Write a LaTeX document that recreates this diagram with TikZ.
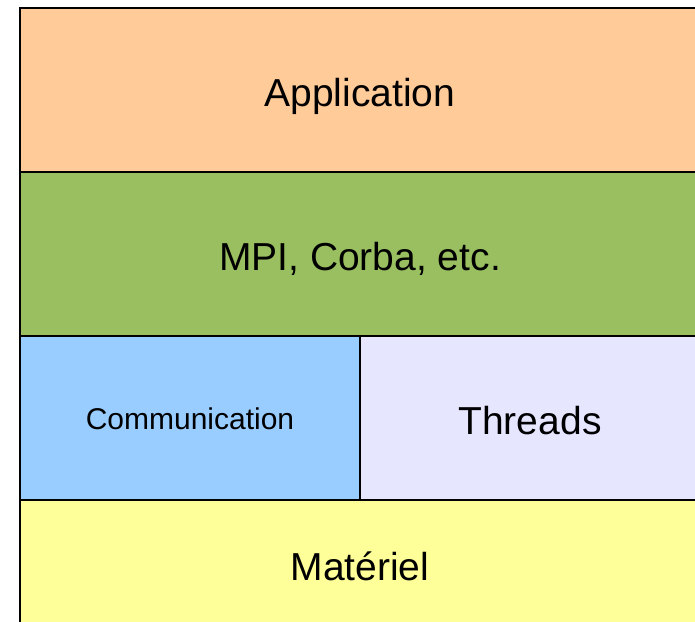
\documentclass[tikz,border=0pt]{standalone}
\usepackage{fontspec}
\setmainfont{Liberation Sans}
\usetikzlibrary{positioning}

\definecolor{appli}{HTML}{FFCC99}
\definecolor{mpi}{HTML}{99BF60}
\definecolor{comm}{HTML}{99CCFF}
\definecolor{threads}{HTML}{E6E6FF}
\definecolor{materiel}{HTML}{FFFF99}

\begin{document}
\begin{tikzpicture}[x=1pt, y=1pt,
    layer/.style={draw, line width=2pt, inner sep=0pt, outer sep=0pt,
      minimum height=164pt, text height=34pt, text depth=0pt,
      font=\fontsize{39}{47}\selectfont}]
        \clip (0,0) rectangle (695,621);
        % software stack, top to bottom
        \node[layer, fill=appli, minimum width=680pt, anchor=north west] (appli) at (20,613) {Application};
        \node[layer, fill=mpi, minimum width=680pt, below=0pt of appli] (mpi) {MPI, Corba, etc.};
        \node[layer, fill=comm, minimum width=340pt, anchor=north west,
              font=\fontsize{30}{36}\selectfont, text height=24pt] (comm) at (mpi.south west) {Communication};
        \node[layer, fill=threads, minimum width=340pt, right=0pt of comm] (threads) {Threads};
        \node[layer, fill=materiel, minimum width=680pt, minimum height=126pt, anchor=north west] (materiel) at (comm.south west) {Matériel};
    \end{tikzpicture}
\end{document}
